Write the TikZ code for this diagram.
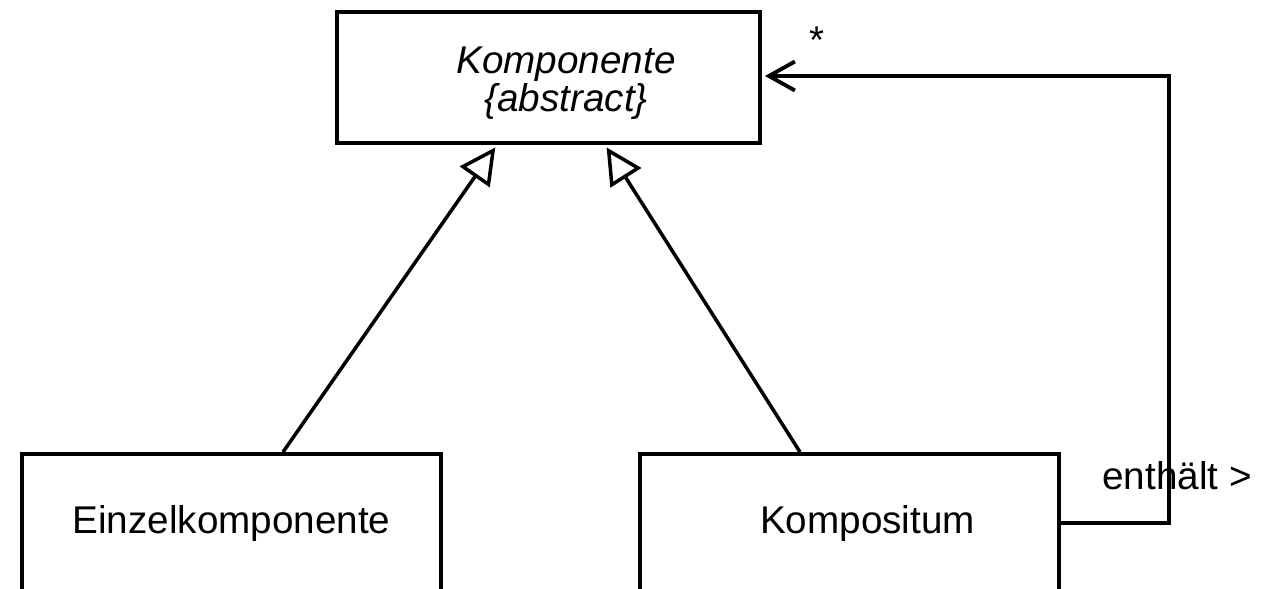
\documentclass[tikz,border=0pt]{standalone}
\usepackage{fontspec}
\setmainfont{Liberation Sans}
\usetikzlibrary{
  arrows.meta,
  positioning,
}
\tikzset{
  klasse/.style={
    rectangle,
    minimum width=8.38cm,
    minimum height=2.76cm,
    align=center,
    line width=2.2pt,
    draw=black,
    fill=white,
    font=\fontsize{22pt}{20.5pt}\selectfont
  },
  abstrakt/.style={
    klasse,
    minimum width=8.46cm,
    minimum height=2.62cm,
    font=\fontsize{22pt}{20.5pt}\selectfont\itshape
  },
  beschriftung/.style={
    anchor=base,
    inner sep=0pt,
    font=\fontsize{22pt}{26pt}\selectfont
  },
  generalisierung/.style={
    line width=2pt,
    shorten >=0.06cm,
    -{Triangle[open, length=0.72cm, width=0.72cm]},
  },
  assoziation/.style={
    line width=2.2pt,
    shorten >=0.06cm,
    -{Straight Barb[length=0.52cm, width=0.58cm]},
  },
}

\begin{document}
\begin{tikzpicture}

  \path[use as bounding box, clip] (0,0) rectangle (25.46,-11.78);

  \node[abstrakt] (komponente) at (10.97,-1.55)
    {\rule{0pt}{22pt}\hspace*{0.7cm}Komponente\\\hspace*{0.7cm}\{abstract\}};

  \node[klasse] (einzel) at (4.63,-10.46) {Einzelkomponente};
  \node[klasse] (kompositum) at (16.99,-10.46) {\hspace*{0.72cm}Kompositum};

  % Vererbung
  \draw[generalisierung] ([xshift=1.03cm]einzel.north) -- ([xshift=-1.03cm]komponente.south);
  \draw[generalisierung] ([xshift=-0.99cm]kompositum.north) -- ([xshift=1.13cm]komponente.south);

  % Aggregation
  \draw[assoziation] (kompositum.east) -- ++(2.16,0) coordinate (ecke)
    |- ([yshift=0.03cm]komponente.east);

  \node[beschriftung] (stern) at (16.34,-1.08) {*};
  \node[beschriftung] (rolle) at (23.54,-9.78) {enthält >};

\end{tikzpicture}
\end{document}
